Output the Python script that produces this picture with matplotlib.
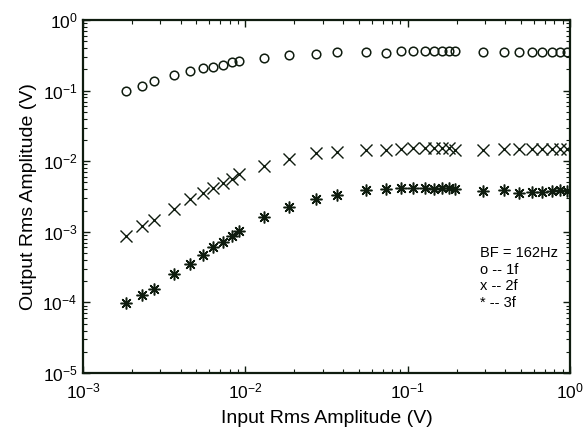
import matplotlib
matplotlib.use("Agg")
import matplotlib.pyplot as plt

plt.rcParams['font.family'] = ['Liberation Sans', 'DejaVu Sans']
plt.rcParams['mathtext.default'] = 'regular'

x_in = [0.00184, 0.00231, 0.00273, 0.00364, 0.00456, 0.00548, 0.00632, 0.00731,
        0.00828, 0.00918, 0.0130, 0.0185, 0.0273, 0.0366, 0.0552, 0.0733, 0.0910,
        0.108, 0.128, 0.145, 0.163, 0.180, 0.197, 0.290, 0.393, 0.485, 0.582,
        0.673, 0.776, 0.869, 0.964]

y_1f = [0.099, 0.117, 0.137, 0.165, 0.190, 0.207, 0.218, 0.228, 0.252, 0.263,
        0.290, 0.319, 0.333, 0.349, 0.348, 0.344, 0.367, 0.364, 0.364, 0.364,
        0.364, 0.364, 0.364, 0.348, 0.348, 0.348, 0.348, 0.348, 0.348, 0.348, 0.348]

y_2f = [8.8e-4, 1.22e-3, 1.48e-3, 2.08e-3, 2.89e-3, 3.55e-3, 4.21e-3, 4.86e-3,
        5.60e-3, 6.52e-3, 8.63e-3, 0.01074, 0.01306, 0.01364, 0.0144, 0.0144,
        0.0150, 0.0155, 0.0152, 0.0155, 0.0152, 0.0155, 0.0145, 0.0146, 0.0147,
        0.0147, 0.0147, 0.0147, 0.0147, 0.0147, 0.0147]

y_3f = [9.7e-5, 1.27e-4, 1.53e-4, 2.50e-4, 3.47e-4, 4.74e-4, 6.09e-4, 7.24e-4,
        8.8e-4, 1.03e-3, 1.62e-3, 2.25e-3, 2.92e-3, 3.32e-3, 3.91e-3, 4.04e-3,
        4.21e-3, 4.21e-3, 4.13e-3, 4.04e-3, 4.21e-3, 4.21e-3, 4.1e-3, 3.75e-3,
        3.95e-3, 3.58e-3, 3.62e-3, 3.70e-3, 3.78e-3, 3.9e-3, 3.8e-3]

annot_lines = ["BF = 162Hz", "o -- 1f", "x -- 2f", "* -- 3f"]

ink = '#0f1c0f'

fig = plt.figure(figsize=(5.87, 4.29), dpi=100)
ax = fig.add_axes([0.1414, 0.1305, 0.8296, 0.8229])

ax.plot(x_in, y_1f, linestyle='none', marker='o', ms=6.2, mfc='none', mec=ink, mew=1.1)
ax.plot(x_in, y_2f, linestyle='none', marker='x', ms=8.5, mec=ink, mew=1.0)
ax.plot(x_in, y_3f, linestyle='none', marker=(8, 2, 0), ms=8.5, mec=ink, mew=1.1)

ax.set_xscale('log')
ax.set_yscale('log')
ax.set_xlim(1e-3, 1)
ax.set_ylim(1e-5, 1)

for s in ax.spines.values():
    s.set_linewidth(1.6)
    s.set_color(ink)

ax.tick_params(which='both', direction='in', top=True, right=True, color=ink)
ax.tick_params(which='major', length=5, width=1.0, labelsize=12.5)
ax.tick_params(which='minor', length=3, width=0.8)
ax.tick_params(axis='x', which='major', pad=6)
ax.tick_params(axis='y', which='major', pad=4)

ax.set_xlabel('Input Rms Amplitude (V)', fontsize=14, labelpad=6)
ax.set_ylabel('Output Rms Amplitude (V)', fontsize=14, labelpad=4)

for i, t in enumerate(annot_lines):
    ax.text(0.815, 0.34 - i * 0.047, t, transform=ax.transAxes, fontsize=10.5,
            color='black', va='center', ha='left')

fig.savefig('out.png', dpi=100)
